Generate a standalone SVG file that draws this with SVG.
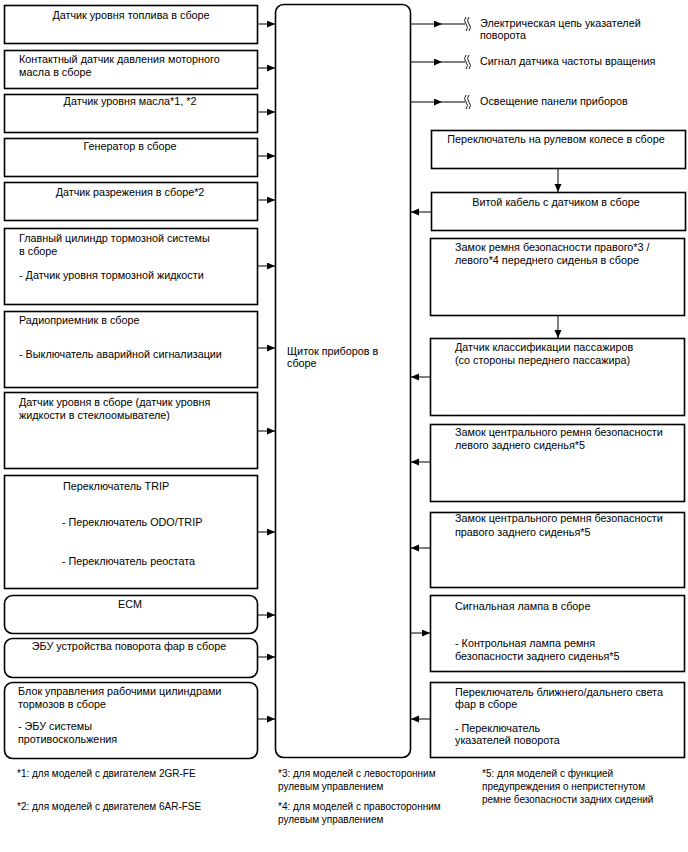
<svg xmlns="http://www.w3.org/2000/svg" width="688" height="852" viewBox="0 0 688 852">
<style>
.box{fill:#fff;stroke:#000;stroke-width:1.6}
.ln{stroke:#000;stroke-width:1;fill:none}
.wv{stroke:#000;stroke-width:0.9;fill:none}
text{font-family:"Liberation Sans",Arial,sans-serif;font-size:10.8px;fill:#000}
.c{text-anchor:middle}
.fn{font-size:10px}
</style>
<defs>
<marker id="ah" markerUnits="userSpaceOnUse" markerWidth="9" markerHeight="8" refX="8" refY="3.5" orient="auto">
<path d="M0,0 L8,3.5 L0,7 Z" fill="#000"/>
</marker>
</defs>
<rect width="688" height="852" fill="#fff"/>

<g id="cluster">
<rect class="box" x="275.5" y="4.5" width="135" height="753" rx="8"/>
<text x="287" y="355">Щиток приборов в</text>
<text x="287" y="367">сборе</text>
</g>

<g id="n1"><rect class="box" x="4.5" y="5.5" width="253" height="38"/><text class="c" x="131" y="19">Датчик уровня топлива в сборе</text></g>
<g id="n2"><rect class="box" x="4.5" y="50.5" width="253" height="38"/><text x="19" y="63">Контактный датчик давления моторного</text><text x="19" y="76">масла в сборе</text></g>
<g id="n3"><rect class="box" x="4.5" y="94.5" width="253" height="38"/><text class="c" x="130" y="105">Датчик уровня масла*1, *2</text></g>
<g id="n4"><rect class="box" x="4.5" y="138.5" width="253" height="38"/><text class="c" x="130" y="150">Генератор в сборе</text></g>
<g id="n5"><rect class="box" x="4.5" y="182.5" width="253" height="38"/><text class="c" x="130" y="196">Датчик разрежения в сборе*2</text></g>
<g id="n6"><rect class="box" x="4.5" y="228.5" width="253" height="76"/><text x="19" y="242">Главный цилиндр тормозной системы</text><text x="19" y="255">в сборе</text><text x="19" y="279">- Датчик уровня тормозной жидкости</text></g>
<g id="n7"><rect class="box" x="4.5" y="311.5" width="253" height="76"/><text x="19" y="324">Радиоприемник в сборе</text><text x="19" y="358">- Выключатель аварийной сигнализации</text></g>
<g id="n8"><rect class="box" x="4.5" y="392.5" width="253" height="76"/><text x="19" y="406">Датчик уровня в сборе (датчик уровня</text><text x="19" y="419">жидкости в стеклоомывателе)</text></g>
<g id="n9"><rect class="box" x="4.5" y="475.5" width="253" height="113"/><text x="63" y="490">Переключатель TRIP</text><text x="62" y="526">- Переключатель ODO/TRIP</text><text x="62" y="565">- Переключатель реостата</text></g>
<g id="n10"><rect class="box" x="4.5" y="595.5" width="253" height="38" rx="8"/><text class="c" x="130" y="608">ECM</text></g>
<g id="n11"><rect class="box" x="4.5" y="638.5" width="253" height="39" rx="8"/><text class="c" x="129" y="650">ЭБУ устройства поворота фар в сборе</text></g>
<g id="n12"><rect class="box" x="4.5" y="682.5" width="253" height="76" rx="8"/><text x="18" y="695">Блок управления рабочими цилиндрами</text><text x="18" y="708">тормозов в сборе</text><text x="18" y="730">- ЭБУ системы</text><text x="18" y="743">противоскольжения</text></g>

<g id="o1"><text x="480" y="27">Электрическая цепь указателей</text><text x="480" y="39">поворота</text></g>
<g id="o2"><text x="480" y="65">Сигнал датчика частоты вращения</text></g>
<g id="o3"><text x="480" y="105">Освещение панели приборов</text></g>

<g id="r1"><rect class="box" x="431.5" y="130.5" width="254" height="38"/><text class="c" x="556" y="143">Переключатель на рулевом колесе в сборе</text></g>
<g id="r2"><rect class="box" x="431.5" y="192.5" width="254" height="38"/><text class="c" x="556" y="206">Витой кабель с датчиком в сборе</text></g>
<g id="r3"><rect class="box" x="430.5" y="238.5" width="254" height="77"/><text x="455" y="251">Замок ремня безопасности правого*3 /</text><text x="455" y="264">левого*4 переднего сиденья в сборе</text></g>
<g id="r4"><rect class="box" x="430.5" y="338.5" width="254" height="77"/><text x="455" y="351">Датчик классификации пассажиров</text><text x="455" y="364">(со стороны переднего пассажира)</text></g>
<g id="r5"><rect class="box" x="430.5" y="424.5" width="254" height="77"/><text x="455" y="436">Замок центрального ремня безопасности</text><text x="455" y="449">левого заднего сиденья*5</text></g>
<g id="r6"><rect class="box" x="430.5" y="512.5" width="254" height="75"/><text x="455" y="522">Замок центрального ремня безопасности</text><text x="455" y="536">правого заднего сиденья*5</text></g>
<g id="r7"><rect class="box" x="430.5" y="595.5" width="254" height="76"/><text x="455" y="610">Сигнальная лампа в сборе</text><text x="455" y="647">- Контрольная лампа ремня</text><text x="455" y="660">безопасности заднего сиденья*5</text></g>
<g id="r8"><rect class="box" x="430.5" y="682.5" width="254" height="75"/><text x="455" y="696">Переключатель ближнего/дальнего света</text><text x="455" y="708">фар в сборе</text><text x="455" y="732">- Переключатель</text><text x="455" y="744">указателей поворота</text></g>

<g id="connectors">
<line class="ln" x1="258" y1="24" x2="275" y2="24" marker-end="url(#ah)"/>
<line class="ln" x1="258" y1="68" x2="275" y2="68" marker-end="url(#ah)"/>
<line class="ln" x1="258" y1="112" x2="275" y2="112" marker-end="url(#ah)"/>
<line class="ln" x1="258" y1="156" x2="275" y2="156" marker-end="url(#ah)"/>
<line class="ln" x1="258" y1="200" x2="275" y2="200" marker-end="url(#ah)"/>
<line class="ln" x1="258" y1="266" x2="275" y2="266" marker-end="url(#ah)"/>
<line class="ln" x1="258" y1="348" x2="275" y2="348" marker-end="url(#ah)"/>
<line class="ln" x1="258" y1="431" x2="275" y2="431" marker-end="url(#ah)"/>
<line class="ln" x1="258" y1="532" x2="275" y2="532" marker-end="url(#ah)"/>
<line class="ln" x1="258" y1="615" x2="275" y2="615" marker-end="url(#ah)"/>
<line class="ln" x1="258" y1="657" x2="275" y2="657" marker-end="url(#ah)"/>
<line class="ln" x1="258" y1="719" x2="275" y2="719" marker-end="url(#ah)"/>

<line class="ln" x1="411" y1="24" x2="442" y2="24" marker-end="url(#ah)"/>
<line class="ln" x1="442" y1="24" x2="465" y2="24"/>
<line class="ln" x1="411" y1="62" x2="442" y2="62" marker-end="url(#ah)"/>
<line class="ln" x1="442" y1="62" x2="465" y2="62"/>
<line class="ln" x1="411" y1="102" x2="442" y2="102" marker-end="url(#ah)"/>
<line class="ln" x1="442" y1="102" x2="465" y2="102"/>
<path class="wv" d="M466,17 q-3,3.5 0,7 q3,3.5 0,7 M469,17 q-3,3.5 0,7 q3,3.5 0,7"/>
<path class="wv" d="M466,55 q-3,3.5 0,7 q3,3.5 0,7 M469,55 q-3,3.5 0,7 q3,3.5 0,7"/>
<path class="wv" d="M466,95 q-3,3.5 0,7 q3,3.5 0,7 M469,95 q-3,3.5 0,7 q3,3.5 0,7"/>

<line class="ln" x1="558" y1="169" x2="558" y2="192" marker-end="url(#ah)"/>
<line class="ln" x1="558" y1="316" x2="558" y2="338" marker-end="url(#ah)"/>

<line class="ln" x1="431" y1="212" x2="411" y2="212" marker-end="url(#ah)"/>
<line class="ln" x1="430" y1="377" x2="411" y2="377" marker-end="url(#ah)"/>
<line class="ln" x1="430" y1="462" x2="411" y2="462" marker-end="url(#ah)"/>
<line class="ln" x1="430" y1="548" x2="411" y2="548" marker-end="url(#ah)"/>
<line class="ln" x1="411" y1="633" x2="430" y2="633" marker-end="url(#ah)"/>
<line class="ln" x1="430" y1="719" x2="411" y2="719" marker-end="url(#ah)"/>
</g>

<g id="footnotes">
<text class="fn" x="17" y="777">*1: для моделей с двигателем 2GR-FE</text>
<text class="fn" x="17" y="810">*2: для моделей с двигателем 6AR-FSE</text>
<text class="fn" x="278" y="777">*3: для моделей с левосторонним</text>
<text class="fn" x="278" y="790">рулевым управлением</text>
<text class="fn" x="278" y="810">*4: для моделей с правосторонним</text>
<text class="fn" x="278" y="823">рулевым управлением</text>
<text class="fn" x="482" y="777">*5: для моделей с функцией</text>
<text class="fn" x="482" y="790">предупреждения о непристегнутом</text>
<text class="fn" x="482" y="803">ремне безопасности задних сидений</text>
</g>
</svg>
